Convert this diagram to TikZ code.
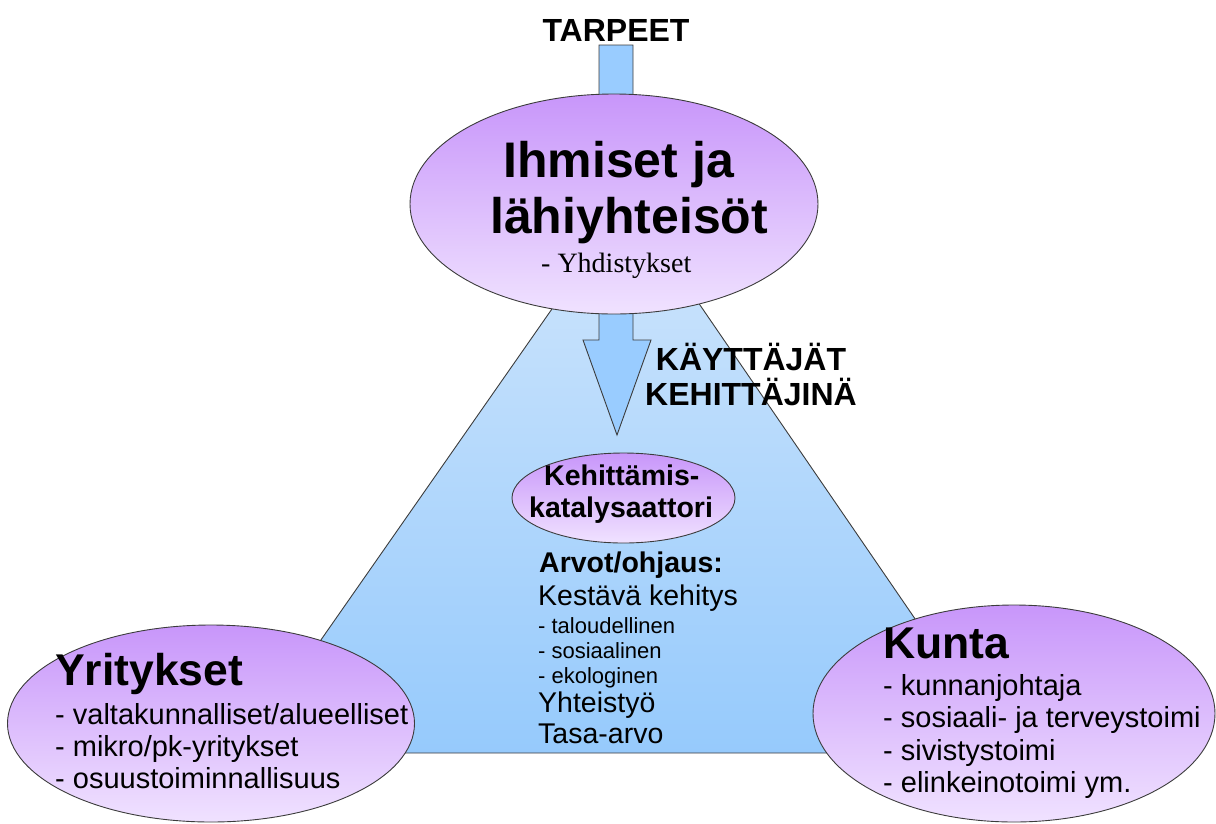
\documentclass[tikz,border=0pt]{standalone}
\usepackage{fontspec}
\setmainfont{Liberation Sans}
\newfontfamily\serifface{Liberation Serif}
\usetikzlibrary{shapes.geometric}
\definecolor{purpTop}{RGB}{200,150,250}
\definecolor{purpBot}{RGB}{240,226,255}
\definecolor{blueTop}{RGB}{208,230,252}
\definecolor{blueBot}{RGB}{150,202,252}
\definecolor{arrowBlue}{RGB}{153,204,255}
\definecolor{edge}{RGB}{60,60,60}
\tikzset{
  bubble/.style={ellipse, draw=edge, line width=0.9pt, top color=purpTop, bottom color=purpBot, inner sep=0pt},
  txt/.style={anchor=base west, inner sep=0pt, text=black},
  big/.style={txt, font=\fontsize{50}{56}\selectfont\bfseries},
  head/.style={txt, font=\fontsize{44.5}{50}\selectfont\bfseries},
  item/.style={txt, font=\fontsize{29}{32}\selectfont},
  mid/.style={txt, font=\fontsize{28.5}{32}\selectfont},
  midb/.style={txt, font=\fontsize{28.5}{32}\selectfont\bfseries},
  small/.style={txt, font=\fontsize{22}{25}\selectfont},
  label/.style={inner sep=0pt, font=\fontsize{32}{35}\selectfont\bfseries, text=black}
}
\begin{document}
\begin{tikzpicture}[x=1pt,y=-1pt]
\useasboundingbox (0,0) rectangle (1216,823);
% triangle
\coordinate (apex) at (628,200);
\coordinate (bl) at (242,753);
\coordinate (br) at (1007,753);
\path[draw=edge, line width=0.9pt, top color=blueTop, bottom color=blueBot] (apex) -- (bl) -- (br) -- cycle;
% block arrow
\coordinate (a1) at (599,45);
\coordinate (a2) at (633,45);
\coordinate (a3) at (633,340);
\coordinate (a4) at (651,340);
\coordinate (tip) at (617,435);
\coordinate (a6) at (583,340);
\coordinate (a7) at (599,340);
\draw[edge, line width=0.9pt, fill=arrowBlue] (a1) -- (a2) -- (a3) -- (a4) -- (tip) -- (a6) -- (a7) -- cycle;
% ellipses
\node[bubble, minimum width=408pt, minimum height=220pt] (top) at (614,204) {};
\node[bubble, minimum width=223pt, minimum height=90pt] (kat) at (623.5,498) {};
\node[bubble, minimum width=407pt, minimum height=197pt] (yri) at (211,723.5) {};
\node[bubble, minimum width=402pt, minimum height=217pt] (kun) at (1014,713.5) {};
% labels
\node[label, anchor=base] (tarpeet) at (616,41) {TARPEET};
\node[label, anchor=base] (kay1) at (751,370) {KÄYTTÄJÄT};
\node[label, anchor=base] (kay2) at (751,405) {KEHITTÄJINÄ};
% top ellipse text
\node[big] (ih1) at (503,177) {Ihmiset ja};
\node[big] (ih2) at (490,233) {lähiyhteisöt};
\node[txt, font=\fontsize{28}{30}\selectfont\serifface] (yhd) at (541,272) {- Yhdistykset};
% catalyst
\node[midb] (k1) at (544,485) {Kehittämis-};
\node[midb] (k2) at (529,517) {katalysaattori};
% values
\node[midb] (v1) at (539,572) {Arvot/ohjaus:};
\node[mid] (v2) at (538,605) {Kestävä kehitys};
\node[small] (v3) at (538,633) {- taloudellinen};
\node[small] (v4) at (538,658) {- sosiaalinen};
\node[small] (v5) at (538,683) {- ekologinen};
\node[mid] (v6) at (538,712) {Yhteistyö};
\node[mid] (v7) at (538,743) {Tasa-arvo};
% Yritykset
\node[head] (y0) at (55,685) {Yritykset};
\node[item] (y1) at (55,724) {- valtakunnalliset/alueelliset};
\node[item] (y2) at (55,756) {- mikro/pk-yritykset};
\node[item] (y3) at (55,788) {- osuustoiminnallisuus};
% Kunta
\node[head] (ku0) at (883,658) {Kunta};
\node[item] (ku1) at (883,695) {- kunnanjohtaja};
\node[item] (ku2) at (883,727) {- sosiaali- ja terveystoimi};
\node[item] (ku3) at (883,760) {- sivistystoimi};
\node[item] (ku4) at (883,792) {- elinkeinotoimi ym.};
\end{tikzpicture}
\end{document}
